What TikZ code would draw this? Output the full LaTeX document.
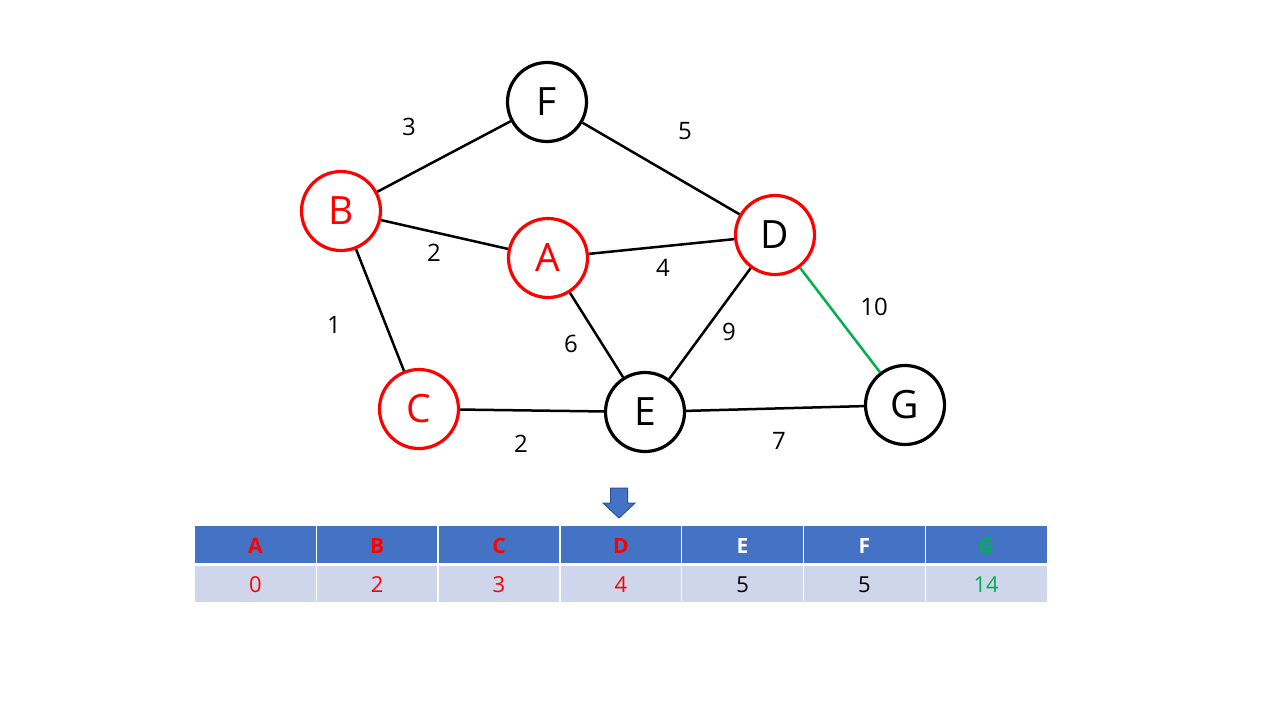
\documentclass[tikz,border=0pt]{standalone}
\usepackage{fontspec}
\setmainfont{Open Sans}
\definecolor{pred}{HTML}{FF0000}
\definecolor{pgreen}{HTML}{00B050}
\definecolor{pblue}{HTML}{4472C4}
\definecolor{pblueD}{HTML}{2F528F}
\definecolor{plight}{HTML}{CFD5EA}
\begin{document}
\begin{tikzpicture}[x=1pt,y=-1pt,
  vtx/.style={circle,draw=black,line width=3.2pt,minimum size=79pt,inner sep=0pt,font=\fontsize{39}{41}\selectfont},
  vred/.style={vtx,draw=pred,text=pred},
  edg/.style={line width=2.5pt,black},
  wlab/.style={font=\fontsize{24}{26}\selectfont,inner sep=0pt},
  hdr/.style={font=\bfseries\fontsize{21}{23}\selectfont,inner sep=0pt},
  val/.style={font=\fontsize{22}{24}\selectfont,inner sep=0pt}]
\useasboundingbox[fill=white] (0,0) rectangle (1280,720);
% vertices
\node[vtx] (F) at (547,102) {F};
\node[vred] (B) at (341,211) {B};
\node[vred] (A) at (548,258) {A};
\node[vtx,draw=pred] (D) at (775,235) {D};
\node[vred] (C) at (419,409) {C};
\node[vtx] (E) at (645,412) {E};
\node[vtx] (G) at (905,405) {G};
% edges
\draw[edg] (B) -- (F);
\draw[edg] (F) -- (D);
\draw[edg] (B) -- (A);
\draw[edg] (A) -- (D);
\draw[edg] (B) -- (C);
\draw[edg] (A) -- (E);
\draw[edg] (D) -- (E);
\draw[edg,pgreen] (D) -- (G);
\draw[edg] (C) -- (E);
\draw[edg] (E) -- (G);
% weights
\node[wlab] (w1) at (409,127) {3};
\node[wlab] (w2) at (685,131) {5};
\node[wlab] (w3) at (434,253) {2};
\node[wlab] (w4) at (663,268) {4};
\node[wlab] (w5) at (334,325) {1};
\node[wlab] (w6) at (571,344) {6};
\node[wlab] (w7) at (729,332) {9};
\node[wlab] (w8) at (874,307) {10};
\node[wlab] (w9) at (521,444) {2};
\node[wlab] (w10) at (779,441) {7};
% arrow
\draw[fill=pblue,draw=pblueD,line width=1pt] (610.5,488) -- (627.5,488) -- (627.5,503) -- (635,503) -- (619,518) -- (603,503) -- (610.5,503) -- cycle;
% table
\fill[pblue] (194.5,525.5) rectangle (1047,563);
\fill[plight] (194.5,566) rectangle (1047,602);
\foreach \i in {1,...,6} {
  \draw[white,line width=1.5pt] ({194.5+121.8*\i},525.5) -- ({194.5+121.8*\i},602);
}
\draw[white,line width=1pt] (194.5,525.5) -- (1047,525.5);
\node[hdr,text=pred] (hA) at (255.4,546) {A};
\node[hdr,text=pred] (hB) at (377.2,546) {B};
\node[hdr,text=pred] (hC) at (499.0,546) {C};
\node[hdr,text=pred] (hD) at (620.8,546) {D};
\node[hdr,text=white] (hE) at (742.6,546) {E};
\node[hdr,text=white] (hF) at (864.4,546) {F};
\node[hdr,text=pgreen] (hG) at (986.2,546) {G};
\node[val,text=pred] (vA) at (255.4,585) {0};
\node[val,text=pred] (vB) at (377.2,585) {2};
\node[val,text=pred] (vC) at (499.0,585) {3};
\node[val,text=pred] (vD) at (620.8,585) {4};
\node[val] (vE) at (742.6,585) {5};
\node[val] (vF) at (864.4,585) {5};
\node[val,text=pgreen] (vG) at (986.2,585) {14};
\end{tikzpicture}
\end{document}
